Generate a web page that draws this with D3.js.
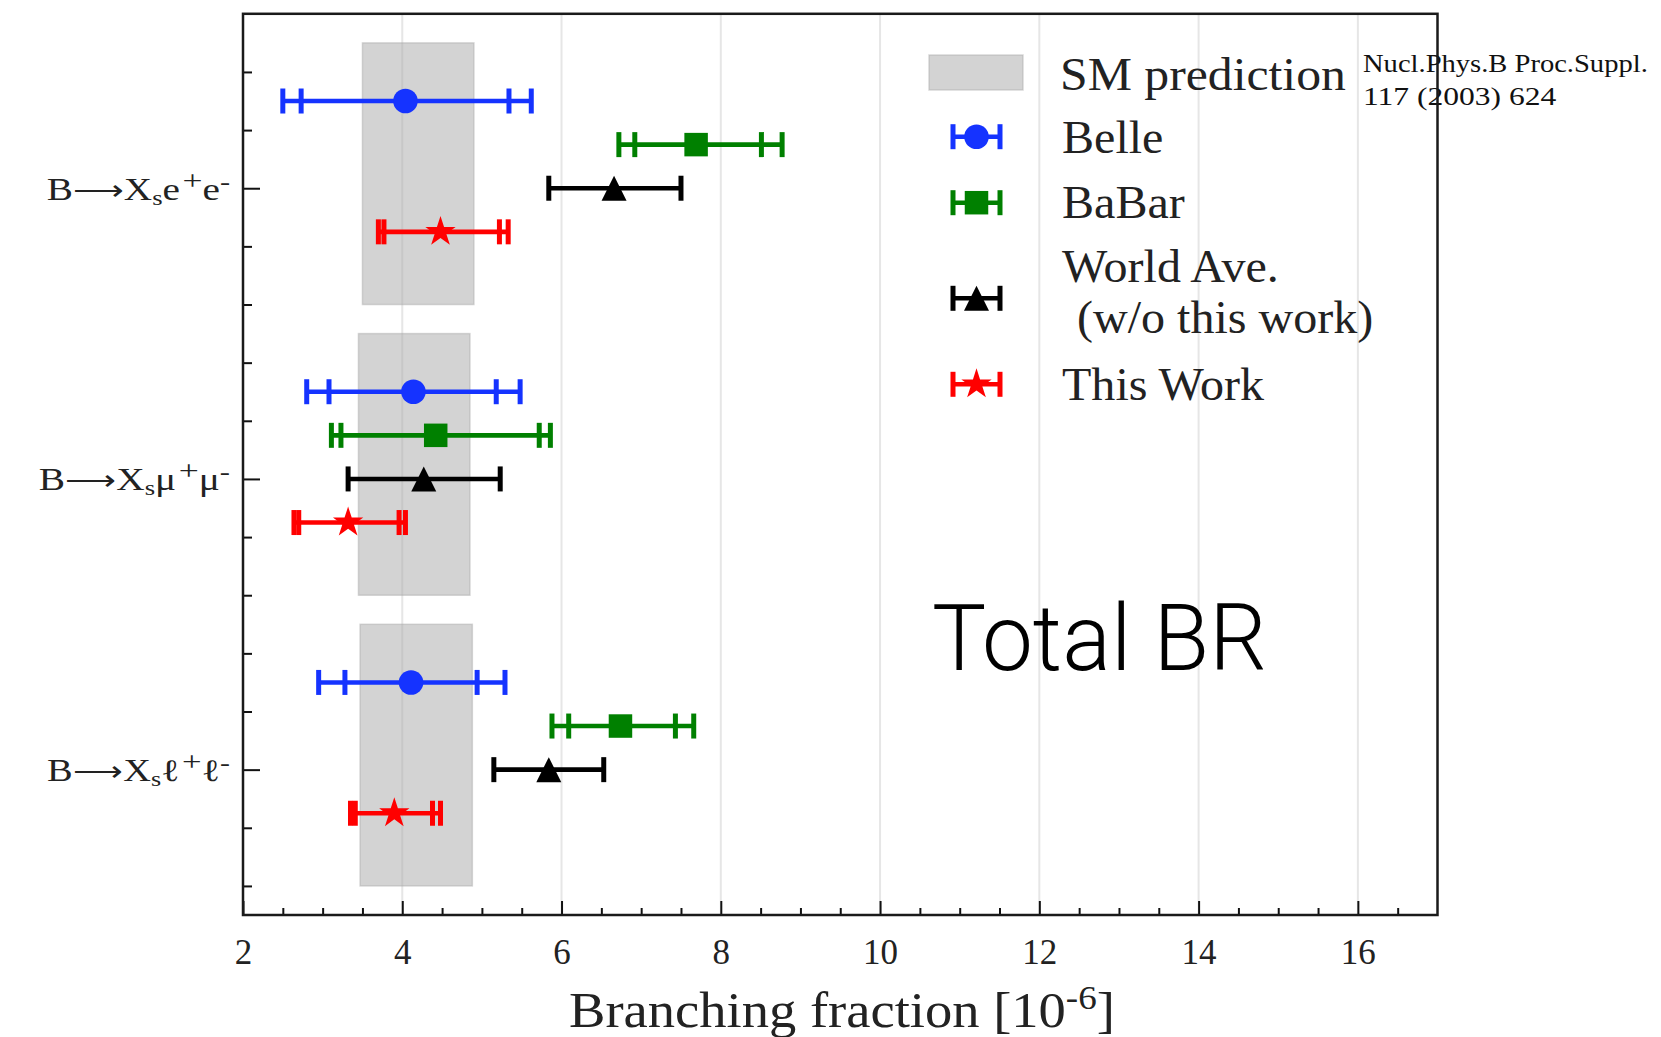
<!DOCTYPE html>
<html><head><meta charset="utf-8">
<script src="https://cdn.jsdelivr.net/npm/d3@7"></script>
<style>body{margin:0;background:#fff} svg{display:block}</style>
</head><body>
<svg id="c" width="1661" height="1037"></svg>
<script>
// ---------------- data ----------------
const categories = ["ee", "mumu", "ll"];
const categoryPos = [2, 1, 0];
const xTickValues = [2, 4, 6, 8, 10, 12, 14, 16];
const xTickLabels = ["2", "4", "6", "8", "10", "12", "14", "16"];

const smLo = [3.50, 3.45, 3.47];
const smHi = [4.90, 4.85, 4.88];

const belleVal    = [4.04, 4.14, 4.11];
const belleStatLo = [2.73, 3.08, 3.28];
const belleStatHi = [5.34, 5.18, 4.94];
const belleTotLo  = [2.50, 2.80, 2.95];
const belleTotHi  = [5.62, 5.48, 5.29];

const babarVal    = [7.69, 4.42, 6.74];
const babarStatLo = [6.92, 3.23, 6.09];
const babarStatHi = [8.51, 5.72, 7.43];
const babarTotLo  = [6.72, 3.11, 5.88];
const babarTotHi  = [8.77, 5.86, 7.66];

const worldVal = [6.66, 4.27, 5.84];
const worldLo  = [5.84, 3.32, 5.15];
const worldHi  = [7.50, 5.23, 6.53];

const thisVal    = [4.48, 3.32, 3.90];
const thisStatLo = [3.77, 2.70, 3.41];
const thisStatHi = [5.22, 3.96, 4.38];
const thisTotLo  = [3.70, 2.64, 3.35];
const thisTotHi  = [5.33, 4.04, 4.48];

const seriesNames = ["Belle", "BaBar", "World Ave.", "This Work"];

// ---------------- layout / style ----------------
const svg = d3.select("#c");
const x = d3.scaleLinear().domain([2, 17]).range([243, 1437.5]);
const y = d3.scaleLinear().domain([-0.5, 2.6]).range([915, 13.8]);
const serif = "'Liberation Serif','Times New Roman',serif";

const series = [
  {name: seriesNames[0], color: "#1533ff", marker: "circle",   off: 0.30, val: belleVal, lo: belleTotLo, hi: belleTotHi, slo: belleStatLo, shi: belleStatHi},
  {name: seriesNames[1], color: "#008000", marker: "square",   off: 0.15, val: babarVal, lo: babarTotLo, hi: babarTotHi, slo: babarStatLo, shi: babarStatHi},
  {name: seriesNames[2], color: "#000000", marker: "triangle", off: 0.00, val: worldVal, lo: worldLo,    hi: worldHi,    slo: null,        shi: null},
  {name: seriesNames[3], color: "#ff0000", marker: "star",     off: -0.15, val: thisVal, lo: thisTotLo,  hi: thisTotHi,  slo: thisStatLo,  shi: thisStatHi}
];

function markerPath(type) {
  if (type === "circle") return d3.symbol(d3.symbolCircle, Math.PI * 12.3 * 12.3)();
  if (type === "square") return d3.symbol(d3.symbolSquare, 23.5 * 23.5)();
  if (type === "star") return d3.symbol(d3.symbolStar, 285)();
  return "M0,-12.5L12.5,12.5L-12.5,12.5Z";
}

function fitX(sel, target, ax) {
  const w = sel.node().getBBox().width;
  const s = target / w;
  sel.attr("transform", `translate(${ax},0) scale(${s},1) translate(${-ax},0)`);
}

// grid
svg.append("g").selectAll("line").data(xTickValues.slice(1)).join("line")
  .attr("x1", d => x(d)).attr("x2", d => x(d))
  .attr("y1", y(2.6)).attr("y2", y(-0.5))
  .attr("stroke", "#e6e6e6").attr("stroke-width", 2);

// SM boxes
svg.append("g").selectAll("rect").data(categoryPos).join("rect")
  .attr("x", (c, i) => x(smLo[i]))
  .attr("width", (c, i) => x(smHi[i]) - x(smLo[i]))
  .attr("y", c => y(c + 0.5))
  .attr("height", c => y(c - 0.4) - y(c + 0.5))
  .attr("fill", "#a8a8a8").attr("fill-opacity", 0.5)
  .attr("stroke", "#a8a8a8").attr("stroke-opacity", 0.45).attr("stroke-width", 1.5);

// error bars
const capH = 12.5;
series.forEach(s => {
  const g = svg.append("g").attr("stroke", s.color).attr("fill", s.color);
  categoryPos.forEach((c, i) => {
    const yy = y(c + s.off);
    g.append("line").attr("x1", x(s.lo[i])).attr("x2", x(s.hi[i]))
      .attr("y1", yy).attr("y2", yy).attr("stroke-width", 4.6);
    const caps = [s.lo[i], s.hi[i]];
    if (s.slo) caps.push(s.slo[i], s.shi[i]);
    caps.forEach(v => {
      g.append("line").attr("x1", x(v)).attr("x2", x(v))
        .attr("y1", yy - capH).attr("y2", yy + capH).attr("stroke-width", 5);
    });
    g.append("path").attr("d", markerPath(s.marker))
      .attr("transform", `translate(${x(s.val[i])},${yy})`)
      .attr("stroke", "none");
  });
});

// x axis
const gx = svg.append("g").attr("transform", `translate(0,${y(-0.5)})`)
  .call(d3.axisBottom(x).tickValues(xTickValues).tickSize(-14).tickPadding(24)
    .tickFormat((d, i) => xTickLabels[i]));
const xMinor = d3.range(2.5, 17, 0.5).filter(v => !xTickValues.includes(v));
const gx2 = svg.append("g").attr("transform", `translate(0,${y(-0.5)})`)
  .call(d3.axisBottom(x).tickValues(xMinor).tickSize(-7).tickFormat(""));
[gx, gx2].forEach(g => { g.select(".domain").remove(); g.selectAll("line").attr("stroke", "#111").attr("stroke-width", 2); });
gx.selectAll("text").attr("font-family", serif).attr("font-size", 35).attr("fill", "#222");

// y axis
const gy = svg.append("g").attr("transform", `translate(${x(2)},0)`)
  .call(d3.axisLeft(y).tickValues(categoryPos).tickSize(-17).tickFormat(""));
const yMinor = d3.range(-0.4, 2.5, 0.2).map(v => Math.round(v * 10) / 10).filter(v => !categoryPos.includes(v));
const gy2 = svg.append("g").attr("transform", `translate(${x(2)},0)`)
  .call(d3.axisLeft(y).tickValues(yMinor).tickSize(-9).tickFormat(""));
[gy, gy2].forEach(g => { g.select(".domain").remove(); g.selectAll("line").attr("stroke", "#111").attr("stroke-width", 2); });

const yLabelParts = [
  [["B","n"],["⟶","n"],["X","n"],["s","sub"],["e","n"],["+","sup"],["e","n"],["-","sup"]],
  [["B","n"],["⟶","n"],["X","n"],["s","sub"],["μ","n"],["+","sup"],["μ","n"],["-","sup"]],
  [["B","n"],["⟶","n"],["X","n"],["s","sub"],["ℓ","n"],["+","sup"],["ℓ","n"],["-","sup"]]
];
const yLabelWidths = [183, 191, 182];
gy.selectAll(".tick").each(function(d, i) {
  const t = d3.select(this).append("text")
    .attr("x", -13).attr("y", 11)
    .attr("text-anchor", "end").attr("font-family", serif)
    .attr("font-size", 31).attr("fill", "#222");
  let shift = 0;
  yLabelParts[i].forEach(([txt, mode]) => {
    let target = mode === "sub" ? 5 : mode === "sup" ? -10 : 0;
    const ts = t.append("tspan").text(txt).attr("dy", target - shift);
    if (mode === "sub") ts.attr("font-size", 21);
    if (txt === "+") ts.attr("font-size", 28).attr("dx", 2);
    if (txt === "-") ts.attr("font-size", 24);
    if (txt === "⟶") ts.attr("font-size", 28);
    shift = target;
  });
  fitX(t, yLabelWidths[i], -13);
});

// axis label
const xl = svg.append("text").attr("x", 842).attr("y", 1027).attr("text-anchor", "middle")
  .attr("font-family", serif).attr("font-size", 50).attr("fill", "#222");
xl.append("tspan").text("Branching fraction [10");
xl.append("tspan").text("-6").attr("font-size", 34).attr("dy", -18);
xl.append("tspan").text("]").attr("dy", 18);
fitX(xl, 546, 842);

// legend
const leg = svg.append("g");
leg.append("rect").attr("x", 929).attr("y", 55).attr("width", 94).attr("height", 35)
  .attr("fill", "#a8a8a8").attr("fill-opacity", 0.5)
  .attr("stroke", "#a8a8a8").attr("stroke-opacity", 0.45).attr("stroke-width", 1.5);
const legendRowsY = [136.7, 202.7, 298.3, 384.3];
series.forEach((s, i) => {
  const yy = legendRowsY[i];
  const g = leg.append("g").attr("stroke", s.color).attr("fill", s.color);
  g.append("line").attr("x1", 953).attr("x2", 1000).attr("y1", yy).attr("y2", yy).attr("stroke-width", 4.6);
  [953, 1000].forEach(v => g.append("line").attr("x1", v).attr("x2", v)
    .attr("y1", yy - 12.5).attr("y2", yy + 12.5).attr("stroke-width", 5));
  g.append("path").attr("d", markerPath(s.marker)).attr("transform", `translate(976.5,${yy})`).attr("stroke", "none");
});
const legTexts = [
  ["SM prediction", 1060, 90, 286],
  ["Belle", 1062, 153, null],
  ["BaBar", 1062, 218, null],
  ["World Ave.", 1062, 282, null],
  ["(w/o this work)", 1077, 333, null],
  ["This Work", 1062, 400, null]
];
legTexts.forEach(([t, lx, ly, w]) => {
  const el = leg.append("text").attr("x", lx).attr("y", ly).text(t)
    .attr("font-family", serif).attr("font-size", 46).attr("fill", "#222");
  fitX(el, w ? w : el.node().getBBox().width * 1.045, lx);
});

// citation
const cit1 = svg.append("text").attr("x", 1363).attr("y", 72).text("Nucl.Phys.B Proc.Suppl.")
  .attr("font-family", serif).attr("font-size", 25).attr("fill", "#111");
fitX(cit1, 285, 1363);
const cit2 = svg.append("text").attr("x", 1363).attr("y", 105).text("117 (2003) 624")
  .attr("font-family", serif).attr("font-size", 25).attr("fill", "#111");
fitX(cit2, 194, 1363);

// Total BR
const tb = svg.append("text").attr("x", 932).attr("y", 670).text("Total BR")
  .attr("font-family", "Roboto, 'Liberation Sans', sans-serif").attr("font-weight", 300)
  .attr("font-size", 93).attr("fill", "#000");
fitX(tb, 335, 932);

// spines
svg.append("rect").attr("x", x(2)).attr("y", y(2.6))
  .attr("width", x(17) - x(2)).attr("height", y(-0.5) - y(2.6))
  .attr("fill", "none").attr("stroke", "#1a1a1a").attr("stroke-width", 2.5);
</script>
</body></html>
